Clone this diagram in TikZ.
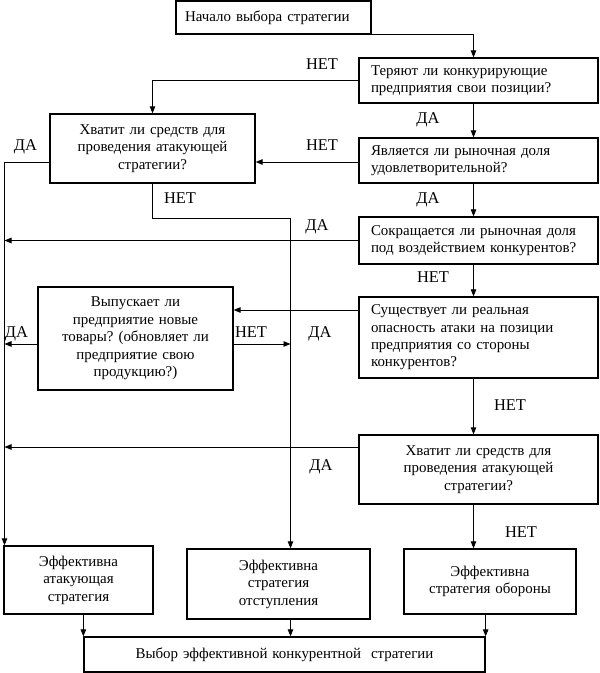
\documentclass[tikz,border=0pt]{standalone}
\usepackage{fontspec}
\setmainfont{Liberation Serif}
\usetikzlibrary{arrows.meta}
\frenchspacing
\begin{document}
\begin{tikzpicture}[x=1bp,y=-1bp,
  box/.style={draw, line width=1.3bp, inner xsep=0bp, inner ysep=0bp, font=\fontsize{15}{17.5}\selectfont},
  lbox/.style={box, align=left},
  cbox/.style={box, align=center},
  lbl/.style={font=\fontsize{16.5}{18}\selectfont, inner sep=0pt, text depth=0pt},
  conn/.style={line width=0.9bp},
  arr/.style={conn, -{Triangle[length=7bp,width=5.5bp]}}
]
\useasboundingbox[fill=white] (0,0) rectangle (600,673);

% boxes
\node[lbox, minimum width=195bp, minimum height=33bp, text width=177bp] (start) at (273.5,17.5) {Начало выбора стратегии};
\node[lbox, minimum width=239bp, minimum height=45bp, text width=215bp] (b2) at (478.5,80.5) {Теряют ли конкурирующие\\предприятия свои позиции?};
\node[cbox, minimum width=205bp, minimum height=69bp, text width=195bp] (b3) at (152.5,148.5) {Хватит ли средств для\\проведения атакующей\\стратегии?};
\node[lbox, minimum width=239bp, minimum height=45bp, text width=215bp] (b4) at (478.5,160.5) {Является ли рыночная доля\\удовлетворительной?};
\node[lbox, minimum width=239bp, minimum height=47bp, text width=215bp] (b5) at (478.5,240.5) {Сокращается ли рыночная доля\\под воздействием конкурентов?};
\node[lbox, minimum width=239bp, minimum height=81bp, text width=215bp] (b6) at (478.5,337.5) {Существует ли реальная\\опасность атаки на позиции\\предприятия со стороны\\конкурентов?};
\node[cbox, minimum width=195bp, minimum height=103bp, text width=185bp] (b7) at (135.5,338.5) {Выпускает ли\\предприятие новые\\товары? (обновляет ли\\предприятие свою\\продукцию?)};
\node[cbox, minimum width=239bp, minimum height=69bp, text width=229bp] (b8) at (478.5,469.5) {Хватит ли средств для\\проведения атакующей\\стратегии?};
\node[cbox, minimum width=149bp, minimum height=68bp, text width=140bp] (e1) at (78.5,580) {Эффективна\\атакующая\\стратегия};
\node[cbox, minimum width=183bp, minimum height=70bp, text width=175bp] (e2) at (278.5,584) {Эффективна\\стратегия\\отступления};
\node[cbox, minimum width=172bp, minimum height=65bp, text width=165bp] (e3) at (490,581.5) {Эффективна\\стратегия обороны};
\node[cbox, minimum width=401bp, minimum height=35bp, text width=390bp] (fin) at (284.5,654.5) {Выбор эффективной конкурентной\ \ стратегии};

% helper coordinates
\coordinate (cx) at (473.5,0);
\coordinate (lx) at (4.5,0);
\coordinate (mx) at (290.5,0);
\coordinate (y80) at (0,80);
\coordinate (y162) at (0,162);
\coordinate (y218) at (0,218);
\coordinate (y310) at (0,310);
\coordinate (y344) at (0,344);
\coordinate (y447) at (0,447);

% connectors
\draw[arr] (start.south east) -| (cx |- b2.north);
\draw[arr] (b2.west |- y80) -| (b3.north);
\draw[arr] (cx |- b2.south) -- (cx |- b4.north);
\draw[arr] (b4.west |- y162) -- (b3.east |- y162);
\draw[arr] (b3.west |- y162) -- (lx |- y162) -- (lx |- e1.north);
\draw[arr] (b3.south) -- (b3.south |- y218) -- (mx |- y218) -- (mx |- e2.north);
\draw[arr] (cx |- b4.south) -- (cx |- b5.north);
\draw[arr] (b5.west) -- (lx |- b5.west);
\draw[arr] (cx |- b5.south) -- (cx |- b6.north);
\draw[arr] (b6.west |- y310) -- (b7.east |- y310);
\draw[arr] (b7.west |- y344) -- (lx |- y344);
\draw[arr] (b7.east |- y344) -- (mx |- y344);
\draw[arr] (cx |- b6.south) -- (cx |- b8.north);
\draw[arr] (b8.west |- y447) -- (lx |- y447);
\draw[arr] (cx |- b8.south) -- (cx |- e3.north);
\draw[arr] (fin.north west |- e1.south) -- (fin.north west);
\draw[arr] (mx |- e2.south) -- (mx |- fin.north);
\draw[arr] (fin.north east |- e3.south) -- (fin.north east);

% labels
\node[lbl] (l1) at (322,64) {НЕТ};
\node[lbl] (l2) at (25.5,145) {ДА};
\node[lbl] (l3) at (428,118) {ДА};
\node[lbl] (l4) at (322,145) {НЕТ};
\node[lbl] (l5) at (180,198) {НЕТ};
\node[lbl] (l6) at (428,198) {ДА};
\node[lbl] (l7) at (317,225) {ДА};
\node[lbl] (l8) at (433,277) {НЕТ};
\node[lbl] (l9) at (16.5,332) {ДА};
\node[lbl] (l10) at (251,332) {НЕТ};
\node[lbl] (l11) at (320,332) {ДА};
\node[lbl] (l12) at (510,405) {НЕТ};
\node[lbl] (l13) at (321,465) {ДА};
\node[lbl] (l14) at (521,532) {НЕТ};
\end{tikzpicture}
\end{document}
